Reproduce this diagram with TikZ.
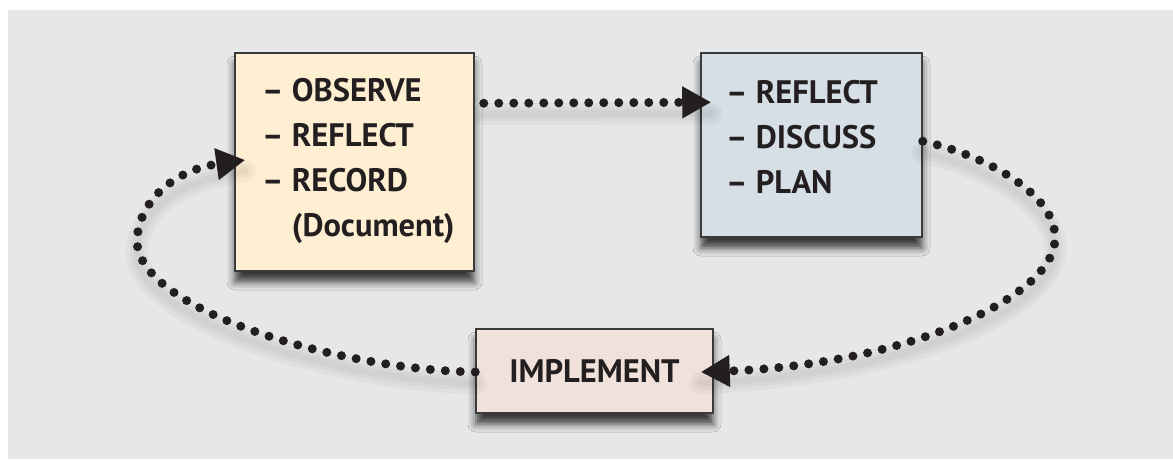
\documentclass[tikz,border=0pt]{standalone}
\usepackage{fontspec}
\setmainfont{PT Sans}
\usetikzlibrary{arrows.meta,shadows.blur,calc}
\definecolor{bg}{HTML}{E6E7E9}
\definecolor{yel}{HTML}{FFEFD2}
\definecolor{blu}{HTML}{D6DEE6}
\definecolor{pnk}{HTML}{F0E2DA}
\definecolor{ink}{HTML}{231F20}
\definecolor{edge}{HTML}{3A3A3A}
\begin{document}
\begin{tikzpicture}[x=1pt,y=-1pt,
  box/.style={draw=edge, line width=1.5pt, inner sep=0pt,
    blur shadow={shadow xshift=0pt, shadow yshift=-11pt, shadow blur radius=8pt, shadow opacity=75}},
  txt/.style={text=ink, font=\fontsize{32.5}{45}\selectfont\bfseries, align=left, inner sep=0pt},
  soft/.style={preaction={draw=black, draw opacity=0.03, line width=22pt, solid, arrows={-}, line cap=round, transform canvas={yshift=-11pt}},
               preaction={draw=black, draw opacity=0.03, line width=14pt, solid, arrows={-}, line cap=round, transform canvas={yshift=-11pt}},
               preaction={draw=black, draw opacity=0.03, line width=7pt, solid, arrows={-}, line cap=round, transform canvas={yshift=-11pt}}},
  dots/.style={soft, draw=ink, line width=9pt, line cap=round, dash pattern=on 0pt off 15pt},
  tip/.style={-{Triangle[length={29pt 0}, width={30pt 0}]}}
]
\useasboundingbox (0,0) rectangle (1173,459);
\fill[white] (0,0) rectangle (1173,459);
\fill[bg] (8,10) rectangle (1173,459);

% boxes
\node[box, fill=yel, minimum width=239pt, minimum height=218pt] (obs) at (354.5,162) {};
\node[box, fill=blu, minimum width=221pt, minimum height=184pt] (refl) at (811.5,145) {};
\node[box, fill=pnk, minimum width=237pt, minimum height=84pt, txt] (imp) at (594.5,371) {IMPLEMENT};

% connectors
\draw[dots, tip] ($(obs.north east)+(9,51)$) -- ($(refl.north west)+(11,50)$);
\draw[dots, tip] ($(refl.north east)+(0,89)$) .. controls (985,155) and (1058,195) .. (1055,240)
   .. controls (1052,300) and (900,365) .. ($(imp.east)+(-13,1)$);
\draw[dots, tip] ($(imp.west)+(0,1)$) .. controls (340,370) and (136,310) .. (137,240)
   .. controls (139,200) and (175,170) .. ($(obs.west)+(11,-2)$);

% texts (anchored at the baseline of the last line)
\node[txt, anchor=base west] (obstext) at (262,236) {– OBSERVE\\– REFLECT\\– RECORD\\\hphantom{– }(Document)};
\node[txt, anchor=base west] (refltext) at (726,193) {– REFLECT\\– DISCUSS\\– PLAN};
\end{tikzpicture}
\end{document}
